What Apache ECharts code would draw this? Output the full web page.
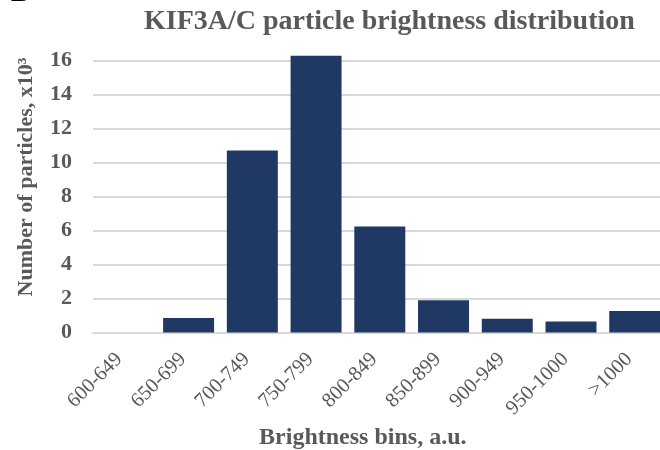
<!DOCTYPE html>
<html>
<head>
<meta charset="utf-8">
<script src="https://cdn.jsdelivr.net/npm/echarts@6/dist/echarts.min.js"></script>
<style>html,body{margin:0;padding:0;background:#fff}#c{width:660px;height:450px}</style>
</head>
<body>
<div id="c"></div>
<script>
var categories = ['600-649','650-699','700-749','750-799','800-849','850-899','900-949','950-1000','>1000'];
var counts = [0, 0.85, 10.7, 16.28, 6.24, 1.89, 0.81, 0.65, 1.27];
var yTicks = [0, 2, 4, 6, 8, 10, 12, 14, 16];
var titleText = 'KIF3A/C particle brightness distribution';
var xName = 'Brightness bins, a.u.';
var yName = 'Number of particles, x10\u00B3';

var FONT = '"Liberation Serif", "Times New Roman", serif';
var chart = echarts.init(document.getElementById('c'), null, {renderer: 'canvas'});
chart.setOption({
  animation: false,
  backgroundColor: '#ffffff',
  title: {
    text: titleText,
    left: 139, top: 3,
    textStyle: {fontFamily: FONT, fontWeight: 'bold', fontSize: 28, color: '#595959'}
  },
  graphic: [{
    type: 'text', left: 11, top: -20.5,
    style: {text: 'B', font: 'bold 28px ' + FONT, fill: '#000'}
  }],
  grid: {left: 93, width: 573.6, top: 60.5, height: 272, containLabel: false, outerBoundsMode: 'none'},
  xAxis: {
    type: 'category',
    data: categories,
    name: xName,
    nameLocation: 'middle',
    nameGap: 80,
    nameTextStyle: {fontFamily: FONT, fontWeight: 'bold', fontSize: 24, color: '#595959', padding: [0, 34, 0, 0]},
    axisLine: {show: true, lineStyle: {color: '#d9d9d9', width: 2}},
    axisTick: {show: false},
    axisLabel: {rotate: 45, margin: 18, fontFamily: FONT, fontSize: 20.5, color: '#595959', interval: 0, padding: [0, 8, 0, 0]}
  },
  yAxis: {
    type: 'value',
    min: yTicks[0], max: yTicks[yTicks.length - 1], interval: 2,
    name: yName,
    nameLocation: 'middle',
    nameGap: 56,
    nameTextStyle: {fontFamily: FONT, fontWeight: 'bold', fontSize: 22, color: '#595959', padding: [0, 0, 0, 39]},
    axisLine: {show: false},
    axisTick: {show: false},
    splitLine: {show: true, lineStyle: {color: '#d9d9d9', width: 2}},
    axisLabel: {margin: 21, fontFamily: FONT, fontWeight: 'bold', fontSize: 22, color: '#595959'}
  },
  series: [{
    type: 'bar',
    data: counts,
    clip: false,
    barCategoryGap: '20%',
    itemStyle: {color: '#203864'}
  }]
});
</script>
</body>
</html>
